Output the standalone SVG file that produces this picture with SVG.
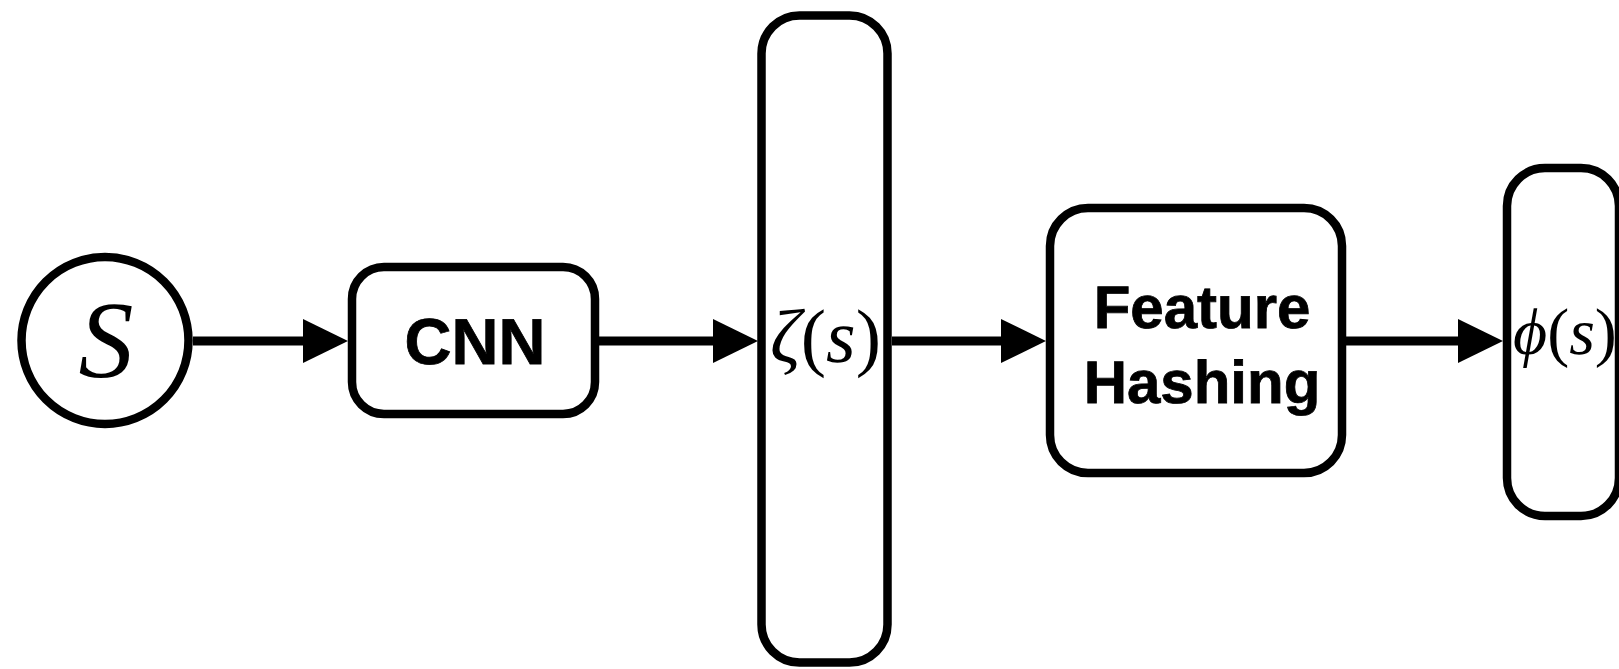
<svg xmlns="http://www.w3.org/2000/svg" width="1619" height="669" viewBox="0 0 1619 669">
  <style>
    .node { fill: #ffffff; stroke: #000000; stroke-width: 8.5; }
    .edge { fill: none; stroke: #000000; stroke-width: 9; }
    text { text-rendering: geometricPrecision; }
    .label { font-family: "Liberation Sans", Arial, sans-serif; font-weight: bold; fill: #000000; stroke: #000000; stroke-width: 0.8; }
    .math { font-family: "Liberation Serif", "DejaVu Serif", serif; font-style: italic; fill: #000000; }
    .paren { font-style: normal; }
  </style>
  <defs>
    <marker id="head" markerUnits="userSpaceOnUse" markerWidth="46" markerHeight="44" refX="0" refY="22" orient="auto">
      <path d="M0,0 L45,22 L0,44 Z" fill="#000000"/>
    </marker>
  </defs>

  <rect width="1619" height="669" fill="#ffffff"/>

  <!-- connectors -->
  <g id="edges">
    <line class="edge" x1="193" y1="341" x2="303" y2="341" marker-end="url(#head)"/>
    <line class="edge" x1="599" y1="341" x2="713" y2="341" marker-end="url(#head)"/>
    <line class="edge" x1="892" y1="341" x2="1001" y2="341" marker-end="url(#head)"/>
    <line class="edge" x1="1346" y1="341" x2="1458" y2="341" marker-end="url(#head)"/>
  </g>

  <!-- input state -->
  <g id="node-s">
    <circle class="node" cx="105" cy="340.5" r="83.5"/>
    <text class="math" x="106" y="377" font-size="110" text-anchor="middle">S</text>
  </g>

  <!-- convolutional network -->
  <g id="node-cnn">
    <rect class="node" x="352" y="267" width="243" height="147" rx="32" ry="32"/>
    <text class="label" x="475" y="364" font-size="65" text-anchor="middle">CNN</text>
  </g>

  <!-- CNN embedding -->
  <g id="node-zeta">
    <rect class="node" x="761.5" y="15.5" width="126" height="647" rx="38" ry="38"/>
    <text class="math" x="770" y="362" font-size="76">ζ<tspan class="paren">(</tspan>s<tspan class="paren">)</tspan></text>
  </g>

  <!-- hashing step -->
  <g id="node-hash">
    <rect class="node" x="1050" y="208" width="292" height="265" rx="38" ry="38"/>
    <text class="label" x="1202" y="328" font-size="60" text-anchor="middle">Feature</text>
    <text class="label" x="1202" y="403" font-size="60" text-anchor="middle">Hashing</text>
  </g>

  <!-- hashed features -->
  <g id="node-phi">
    <rect class="node" x="1507" y="168" width="112" height="348" rx="38" ry="38"/>
    <text class="math" x="1513" y="354" font-size="66">ϕ<tspan class="paren">(</tspan>s<tspan class="paren">)</tspan></text>
  </g>
</svg>
